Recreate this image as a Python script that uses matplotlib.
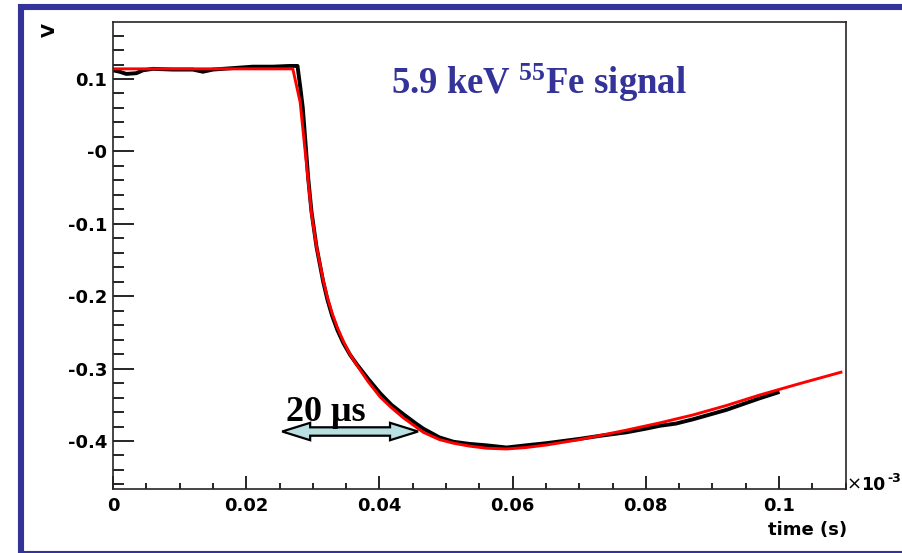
"""
5.9 keV 55Fe pulse recorded on the anode, with the fitted signal shape
"""
import numpy as np
import matplotlib
matplotlib.use("Agg")
import matplotlib.pyplot as plt
from matplotlib.patches import Polygon, Rectangle

# measured pulse (time in 1e-3 s, amplitude in V)
t_meas = [0.0, 0.001, 0.002, 0.0035, 0.0045, 0.006, 0.009, 0.012, 0.0135, 0.015,
          0.018, 0.021, 0.024, 0.0265, 0.0277, 0.0281, 0.0285, 0.0293, 0.0298, 0.03056,
          0.03156, 0.0322, 0.0329, 0.0337, 0.0346, 0.0356, 0.0366, 0.0383, 0.0401, 0.0418,
          0.0436, 0.0455, 0.0466, 0.049, 0.0511, 0.0535, 0.0561, 0.0591, 0.062, 0.0651,
          0.0701, 0.073, 0.0771, 0.080, 0.0821, 0.0845, 0.0871, 0.0921, 0.0971, 0.0998]
v_meas = [0.112, 0.110, 0.107, 0.108, 0.112, 0.114, 0.113, 0.113, 0.110, 0.113,
          0.115, 0.117, 0.117, 0.118, 0.118, 0.090, 0.060, -0.036, -0.083, -0.132,
          -0.180, -0.205, -0.227, -0.247, -0.265, -0.281, -0.294, -0.314, -0.334, -0.350,
          -0.363, -0.376, -0.383, -0.395, -0.401, -0.404, -0.406, -0.409, -0.406, -0.403,
          -0.397, -0.393, -0.388, -0.383, -0.379, -0.376, -0.370, -0.357, -0.341, -0.333]

# fitted shape
t_fit = [0.0, 0.027, 0.0281, 0.0293, 0.0298, 0.03056, 0.03156, 0.0322, 0.0329, 0.0337,
         0.0346, 0.0356, 0.0366, 0.0383, 0.0401, 0.0418, 0.0436, 0.0466, 0.049, 0.0511,
         0.0535, 0.0561, 0.0591, 0.062, 0.0651, 0.0701, 0.0771, 0.0821, 0.0871, 0.0921,
         0.0971, 0.103, 0.1093]
v_fit = [0.114, 0.114, 0.068, -0.040, -0.0855, -0.1316, -0.1776, -0.202, -0.2236, -0.2436,
         -0.2625, -0.2805, -0.295, -0.318, -0.339, -0.354, -0.368, -0.388, -0.398, -0.403,
         -0.407, -0.410, -0.411, -0.409, -0.4055, -0.398, -0.385, -0.375, -0.364, -0.351,
         -0.3365, -0.321, -0.305]

x_ticks = [0, 0.02, 0.04, 0.06, 0.08, 0.1]
x_ticklabels = ["0", "0.02", "0.04", "0.06", "0.08", "0.1"]
y_ticks = [0.1, 0.0, -0.1, -0.2, -0.3, -0.4]
y_ticklabels = ["0.1", "-0", "-0.1", "-0.2", "-0.3", "-0.4"]

# 20 us marker
arrow_x = (0.0254, 0.0458)
arrow_y = -0.3869

plt.rcParams["font.family"] = ["DejaVu Sans"]
plt.rcParams["font.weight"] = "bold"
plt.rcParams["mathtext.fontset"] = "custom"
plt.rcParams["mathtext.bf"] = "Liberation Serif:bold"
plt.rcParams["mathtext.rm"] = "Liberation Serif:bold"

W, H = 903, 553
fig = plt.figure(figsize=(W / 100, H / 100), dpi=100)
fig.patch.set_facecolor("white")

# blue frame around the slide
fig.patches.append(Rectangle((21.5 / W, -0.5 / H), (915 - 21.5) / W, (H - 7 + 0.5) / H,
                             transform=fig.transFigure, fill=False,
                             edgecolor="#333399", linewidth=4.4))

ax = fig.add_axes([113 / W, (H - 489) / H, (845.6 - 113) / W, (489 - 22) / H])
ax.set_xlim(0, 0.11)
ax.set_ylim(-0.4663, 0.1787)

ax.plot(t_meas, v_meas, color="black", lw=2.8, solid_joinstyle="round")
ax.plot(t_fit, v_fit, color="#ff0000", lw=2.1)

ax.set_xticks(x_ticks)
ax.set_xticklabels(x_ticklabels)
ax.set_xticks(np.arange(0, 0.1101, 0.005), minor=True)
ax.set_yticks(y_ticks)
ax.set_yticklabels(y_ticklabels)
ax.set_yticks(np.arange(-0.46, 0.17, 0.02), minor=True)

ax.tick_params(axis="x", which="major", direction="in", length=9.4, width=1.2,
               pad=5.5, labelsize=13)
ax.tick_params(axis="x", which="minor", direction="in", length=4.6, width=1.2)
ax.tick_params(axis="y", which="major", direction="in", length=15, width=1.2,
               pad=4.3, labelsize=13)
ax.tick_params(axis="y", which="minor", direction="in", length=8, width=1.2)
for sp in ax.spines.values():
    sp.set_linewidth(1.2)
    sp.set_color("#2a2424")

# double arrow, sizes in pixels converted to data units
px_x = 0.11 / (845.6 - 113)
px_y = (0.1787 + 0.4663) / (489 - 22)
hl, hh, sh = 28 * px_x, 8.7 * px_y, 4.2 * px_y
x0, x1 = arrow_x
verts = [(x0, arrow_y), (x0 + hl, arrow_y + hh), (x0 + hl, arrow_y + sh),
         (x1 - hl, arrow_y + sh), (x1 - hl, arrow_y + hh), (x1, arrow_y),
         (x1 - hl, arrow_y - hh), (x1 - hl, arrow_y - sh), (x0 + hl, arrow_y - sh),
         (x0 + hl, arrow_y - hh)]
ax.add_patch(Polygon(verts, closed=True, facecolor="#b8e0e3", edgecolor="black",
                     linewidth=1.6, zorder=4))

fig.text(286 / W, (H - 421) / H, "20 μs", family="Liberation Serif",
         weight="bold", size=26, color="black", va="baseline", ha="left")

fig.text(391 / W, (H - 94) / H, r"5.9 keV $\mathbf{^{55}}$Fe signal",
         family="Liberation Serif", weight="bold", size=26.5, color="#333399",
         va="baseline", ha="left")

fig.text(50 / W, (H - 30) / H, "V", rotation=90, size=13, ha="center", va="center")
fig.text(846.7 / W, (H - 535) / H, "time (s)", size=13, ha="right", va="baseline")
fig.text(847 / W, (H - 490) / H, "×", size=13, weight="normal", ha="left", va="baseline")
fig.text(861 / W, (H - 490) / H, "10", size=12.5, ha="left", va="baseline")
fig.text(887 / W, (H - 482) / H, "-3", size=9, ha="left", va="baseline")

plt.savefig("out.png", dpi=100)
